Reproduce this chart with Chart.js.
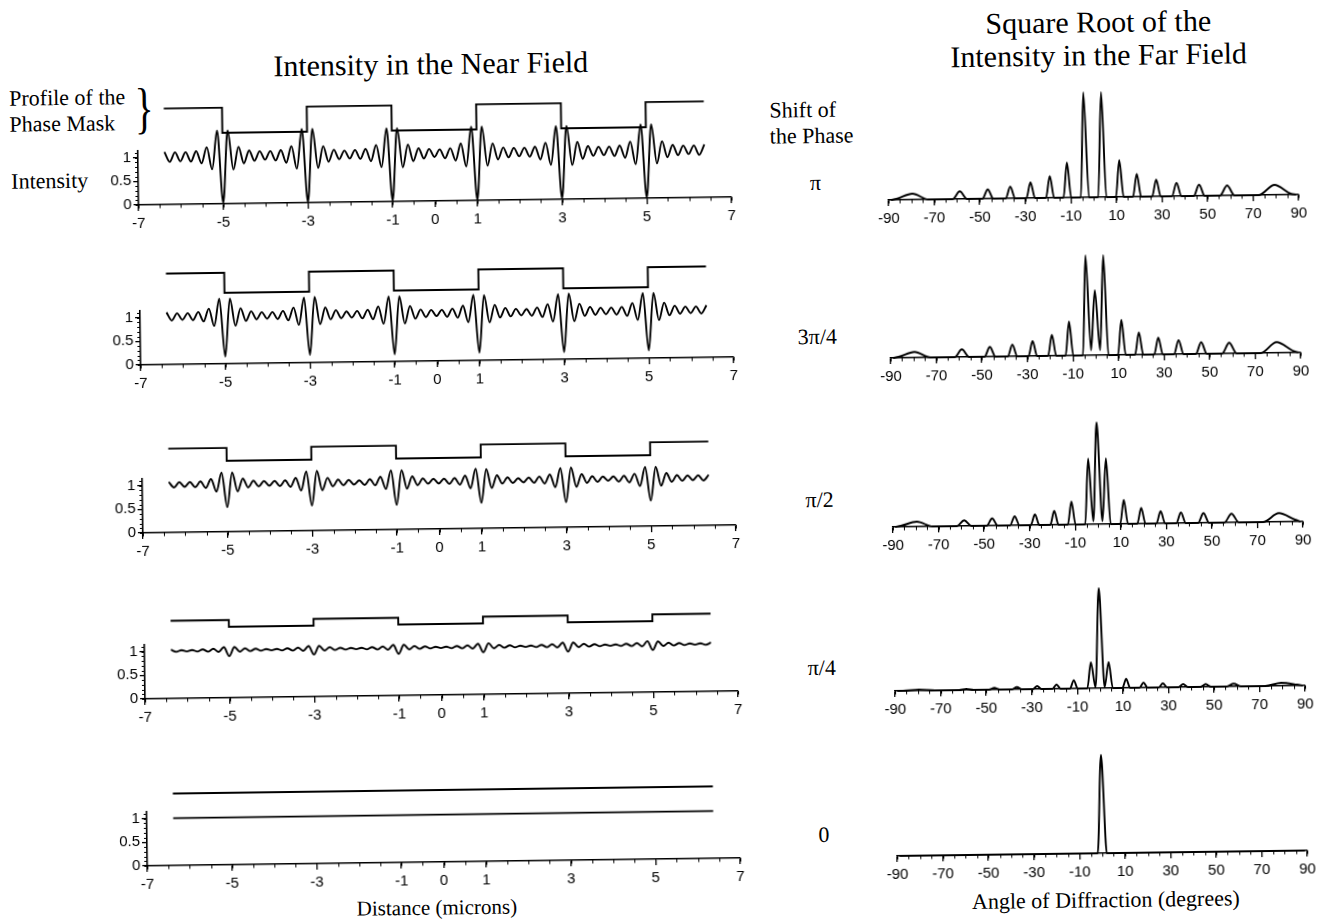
<!DOCTYPE html>
<html lang="en">
<head>
<meta charset="utf-8">
<title>Phase mask: near field and far field</title>
<script src="https://cdn.jsdelivr.net/npm/chart.js"></script>
<style>
  html, body { margin: 0; padding: 0; background: #fff; overflow: hidden; }
  #fig {
    position: relative; width: 1329px; height: 919px;
    transform: rotate(-0.76deg); transform-origin: 664px 460px;
    font-family: 'Liberation Serif', 'Times New Roman', serif; color: #000;
  }
  #fig canvas { position: absolute; }
  .t { position: absolute; white-space: nowrap; line-height: 1; }
  .c { transform: translate(-50%, -50%); }
  .l { transform: translateY(-50%); }
</style>
</head>
<body>
<div id="fig">
  <div class="t c" style="left:436px; top:61px; font-size:30px">Intensity in the Near Field</div>
  <div class="t c" style="left:1104px; top:28px; font-size:30px">Square Root of the</div>
  <div class="t c" style="left:1104px; top:61px; font-size:30px">Intensity in the Far Field</div>

  <div class="t l" style="left:14px; top:90px; font-size:22px">Profile of the</div>
  <div class="t l" style="left:14px; top:116px; font-size:22px">Phase Mask</div>
  <div class="t" style="left:149px; top:101px; font-size:56px; transform:translate(-50%,-50%) scaleX(0.7)">}</div>
  <div class="t l" style="left:15px; top:173px; font-size:22px">Intensity</div>

  <div class="t l" style="left:774px; top:112px; font-size:22px">Shift of</div>
  <div class="t l" style="left:774px; top:138px; font-size:22px">the Phase</div>
  <div class="t c" style="left:819px; top:185px; font-size:22px">π</div>
  <div class="t c" style="left:819px; top:339px; font-size:22px">3π/4</div>
  <div class="t c" style="left:819px; top:502px; font-size:22px">π/2</div>
  <div class="t c" style="left:819px; top:670px; font-size:22px">π/4</div>
  <div class="t c" style="left:819px; top:837px; font-size:22px">0</div>

  <div class="t c" style="left:431px; top:905px; font-size:21px">Distance (microns)</div>
  <div class="t c" style="left:1100px; top:906px; font-size:22px">Angle of Diffraction (degrees)</div>
</div>

<script>
// tick labels
const nearTicks = [-7, -5, -3, -1, 0, 1, 3, 5, 7];
const intensityTicks = [0, 0.5, 1];
const farTicks = [-90, -70, -50, -30, -10, 10, 30, 50, 70, 90];

// near field: distance (microns)
const nearX = [
  -6.375, -6.25, -6.125, -6, -5.875, -5.75, -5.625, -5.5, -5.375, -5.25, -5.125, -5,
  -4.875, -4.75, -4.625, -4.5, -4.375, -4.25, -4.125, -4, -3.875, -3.75, -3.625, -3.5, -3.375, -3.25, -3.125, -3,
  -2.875, -2.75, -2.625, -2.5, -2.375, -2.25, -2.125, -2, -1.875, -1.75, -1.625, -1.5, -1.375, -1.25, -1.125, -1,
  -0.875, -0.75, -0.625, -0.5, -0.375, -0.25, -0.125, 0, 0.125, 0.25, 0.375, 0.5, 0.625, 0.75, 0.875, 1,
  1.125, 1.25, 1.375, 1.5, 1.625, 1.75, 1.875, 2, 2.125, 2.25, 2.375, 2.5, 2.625, 2.75, 2.875, 3,
  3.125, 3.25, 3.375, 3.5, 3.625, 3.75, 3.875, 4, 4.125, 4.25, 4.375, 4.5, 4.625, 4.75, 4.875, 5,
  5.125, 5.25, 5.375, 5.5, 5.625, 5.75, 5.875, 6, 6.125, 6.25, 6.375
];

// intensity in the near field, shift pi
const nearPi = [
  1.11, 0.90, 1.10, 0.91, 1.10, 0.90, 1.12, 0.86, 1.20, 0.73, 1.55, 0.02,
  1.55, 0.72, 1.20, 0.85, 1.12, 0.90, 1.10, 0.92, 1.10, 0.90, 1.12, 0.85, 1.20, 0.72, 1.56, 0.01,
  1.56, 0.73, 1.19, 0.86, 1.11, 0.91, 1.09, 0.92, 1.10, 0.91, 1.12, 0.86, 1.20, 0.73, 1.55, 0.02,
  1.55, 0.72, 1.20, 0.85, 1.12, 0.90, 1.10, 0.93, 1.09, 0.90, 1.11, 0.85, 1.21, 0.72, 1.56, 0.01,
  1.56, 0.73, 1.20, 0.86, 1.11, 0.90, 1.10, 0.92, 1.10, 0.91, 1.12, 0.85, 1.20, 0.73, 1.55, 0.02,
  1.55, 0.72, 1.21, 0.85, 1.12, 0.91, 1.10, 0.92, 1.10, 0.90, 1.12, 0.86, 1.20, 0.72, 1.56, 0.01,
  1.56, 0.73, 1.20, 0.86, 1.12, 0.90, 1.10, 0.92, 1.10, 0.90, 1.12
];
// shift 3pi/4
const near3Pi4 = [
  1.10, 0.93, 1.08, 0.94, 1.08, 0.93, 1.10, 0.90, 1.17, 0.80, 1.38, 0.15,
  1.38, 0.80, 1.17, 0.90, 1.10, 0.93, 1.08, 0.94, 1.08, 0.93, 1.10, 0.90, 1.17, 0.80, 1.38, 0.16,
  1.39, 0.81, 1.16, 0.91, 1.10, 0.93, 1.07, 0.94, 1.08, 0.92, 1.10, 0.90, 1.17, 0.80, 1.38, 0.15,
  1.38, 0.80, 1.17, 0.90, 1.09, 0.93, 1.08, 0.95, 1.08, 0.93, 1.10, 0.91, 1.16, 0.81, 1.39, 0.16,
  1.38, 0.80, 1.17, 0.90, 1.10, 0.92, 1.08, 0.94, 1.07, 0.93, 1.10, 0.90, 1.17, 0.80, 1.38, 0.15,
  1.39, 0.80, 1.17, 0.91, 1.10, 0.93, 1.08, 0.94, 1.08, 0.93, 1.09, 0.90, 1.17, 0.81, 1.38, 0.16,
  1.38, 0.80, 1.17, 0.90, 1.10, 0.93, 1.08, 0.94, 1.08, 0.93, 1.10
];
// shift pi/2
const nearPi2 = [
  1.07, 0.95, 1.06, 0.96, 1.06, 0.95, 1.07, 0.93, 1.12, 0.85, 1.25, 0.52,
  1.25, 0.85, 1.12, 0.93, 1.07, 0.95, 1.06, 0.96, 1.06, 0.95, 1.07, 0.93, 1.12, 0.85, 1.25, 0.53,
  1.26, 0.85, 1.11, 0.93, 1.07, 0.95, 1.06, 0.96, 1.05, 0.95, 1.07, 0.94, 1.12, 0.86, 1.25, 0.52,
  1.25, 0.86, 1.12, 0.93, 1.07, 0.96, 1.06, 0.96, 1.06, 0.95, 1.07, 0.93, 1.12, 0.85, 1.26, 0.54,
  1.25, 0.85, 1.12, 0.94, 1.07, 0.95, 1.05, 0.96, 1.06, 0.95, 1.08, 0.93, 1.12, 0.85, 1.25, 0.53,
  1.26, 0.85, 1.12, 0.93, 1.07, 0.95, 1.06, 0.97, 1.06, 0.95, 1.07, 0.93, 1.11, 0.85, 1.25, 0.54,
  1.25, 0.85, 1.12, 0.93, 1.07, 0.95, 1.06, 0.96, 1.06, 0.95, 1.07
];
// shift pi/4
const nearPi4 = [
  1.03, 0.985, 1.02, 0.99, 1.02, 0.985, 1.03, 0.98, 1.04, 0.97, 1.07, 0.88,
  1.07, 0.97, 1.04, 0.98, 1.03, 0.985, 1.02, 0.99, 1.02, 0.985, 1.03, 0.98, 1.04, 0.97, 1.07, 0.89,
  1.07, 0.97, 1.04, 0.98, 1.025, 0.985, 1.02, 0.99, 1.02, 0.985, 1.03, 0.98, 1.04, 0.97, 1.07, 0.88,
  1.07, 0.97, 1.04, 0.98, 1.03, 0.985, 1.02, 0.99, 1.02, 0.985, 1.03, 0.98, 1.04, 0.97, 1.07, 0.89,
  1.08, 0.97, 1.04, 0.98, 1.03, 0.985, 1.02, 0.99, 1.02, 0.985, 1.03, 0.98, 1.04, 0.97, 1.07, 0.88,
  1.07, 0.97, 1.04, 0.98, 1.03, 0.985, 1.02, 0.99, 1.02, 0.985, 1.03, 0.98, 1.04, 0.97, 1.08, 0.89,
  1.07, 0.97, 1.04, 0.98, 1.03, 0.985, 1.02, 0.99, 1.02, 0.985, 1.03
];
// shift 0: flat
const nearZeroX = [-6.375, 6.375];
const nearZero = [1.0, 1.0];

// phase mask profile (drawn above the intensity curve)
const maskX = [-6.375, -5, -3, -1, 1, 3, 5, 6.375];
const maskPi = [2.03, 1.5, 2.03, 1.5, 2.03, 1.5, 2.03, 2.03];
const mask3Pi4 = [1.92, 1.5, 1.92, 1.5, 1.92, 1.5, 1.92, 1.92];
const maskPi2 = [1.77, 1.5, 1.77, 1.5, 1.77, 1.5, 1.77, 1.77];
const maskPi4 = [1.64, 1.5, 1.64, 1.5, 1.64, 1.5, 1.64, 1.64];
const maskZeroX = [-6.375, 6.375];
const maskZero = [1.52, 1.52];

// far field: angle of diffraction (degrees)
const farAngle = [
  -89, -86.5, -79.5, -72.5, -61.9, -58.7, -55.5, -48.8, -46.4, -44, -38.6, -36.5, -34.4,
  -29.5, -27.6, -25.7, -20.9, -19.1, -17.3, -13.2, -11.5, -9.8, -5.6, -3.9, -2, 0,
  2, 3.9, 5.6, 9.8, 11.5, 13.2, 17.3, 19.1, 20.9, 25.7, 27.6, 29.5, 34.4, 36.5, 38.6,
  44, 46.4, 48.8, 55.5, 58.7, 61.9, 72.5, 79.5, 86.5, 89
];
// square root of the far-field intensity
const farPi = [
  0, 0.01, 0.06, 0, 0, 0.077, 0, 0, 0.093, 0, 0, 0.117, 0,
  0, 0.157, 0, 0, 0.217, 0, 0, 0.35, 0, 0, 1.05, 0, 0,
  0, 1.05, 0, 0, 0.367, 0, 0, 0.227, 0, 0, 0.167, 0, 0, 0.133, 0,
  0, 0.113, 0, 0, 0.1, 0, 0, 0.1, 0.01, 0
];
const far3Pi4 = [
  0, 0.01, 0.057, 0, 0, 0.077, 0, 0, 0.097, 0, 0, 0.117, 0,
  0, 0.15, 0, 0, 0.21, 0, 0, 0.34, 0, 0, 1.0, 0.05, 0.65,
  0.05, 1.0, 0, 0, 0.35, 0, 0, 0.223, 0, 0, 0.167, 0, 0, 0.14, 0,
  0, 0.117, 0, 0, 0.107, 0, 0, 0.107, 0.02, 0
];
const farPi2 = [
  0, 0.01, 0.05, 0, 0, 0.057, 0, 0, 0.073, 0, 0, 0.09, 0,
  0, 0.107, 0, 0, 0.14, 0, 0, 0.23, 0, 0, 0.657, 0.03, 1.017,
  0.03, 0.657, 0, 0, 0.24, 0, 0, 0.157, 0, 0, 0.123, 0, 0, 0.107, 0,
  0, 0.097, 0, 0, 0.087, 0, 0, 0.087, 0.02, 0
];
const farPi4 = [
  0, 0, 0.01, 0, 0, 0.01, 0, 0, 0.017, 0, 0, 0.023, 0,
  0, 0.03, 0, 0, 0.043, 0, 0, 0.083, 0, 0, 0.26, 0.01, 1.0,
  0.01, 0.26, 0, 0, 0.09, 0, 0, 0.05, 0, 0, 0.04, 0, 0, 0.03, 0,
  0, 0.027, 0, 0, 0.027, 0, 0, 0.03, 0.01, 0
];
const farZero = [
  0, 0, 0, 0, 0, 0, 0, 0, 0, 0, 0, 0, 0,
  0, 0, 0, 0, 0, 0, 0, 0, 0, 0, 0, 0, 0.983,
  0, 0, 0, 0, 0, 0, 0, 0, 0, 0, 0, 0, 0, 0, 0,
  0, 0, 0, 0, 0, 0, 0, 0, 0, 0
];

const ink = '#000';
const fig = document.getElementById('fig');
const tickFont = { family: "'Liberation Sans', Arial, sans-serif", size: 15 };
Chart.defaults.color = ink;

const pts = (xs, ys) => xs.map((x, i) => ({ x, y: ys[i] }));

function addCanvas(left, top, w, h) {
  const c = document.createElement('canvas');
  c.width = w; c.height = h;
  c.style.left = left + 'px';
  c.style.top = top + 'px';
  fig.appendChild(c);
  return c;
}

// small unlabeled ticks on the axes
const minorTicks = {
  id: 'minorTicks',
  afterDraw(chart, args, o) {
    const { ctx, scales: { x, y } } = chart;
    const y0 = y.getPixelForValue(0);
    ctx.save();
    ctx.strokeStyle = ink;
    ctx.lineWidth = 1;
    ctx.beginPath();
    for (let v = o.xFrom; v <= o.xTo + 1e-6; v += o.xStep) {
      const px = Math.round(x.getPixelForValue(v)) + 0.5;
      ctx.moveTo(px, y0);
      ctx.lineTo(px, y0 + 3.5);
    }
    if (o.yStep) {
      const x0 = x.getPixelForValue(x.min);
      for (let v = 0; v <= o.yTo + 1e-6; v += o.yStep) {
        const py = Math.round(y.getPixelForValue(v)) + 0.5;
        ctx.moveTo(x0, py);
        ctx.lineTo(x0 - 3, py);
      }
    }
    ctx.stroke();
    ctx.restore();
  }
};

function axisX(min, max, ticks) {
  return {
    type: 'linear', min, max,
    afterBuildTicks: s => { s.ticks = ticks.map(v => ({ value: v })); },
    afterFit: s => { s.height = 30; },
    grid: { drawOnChartArea: false, drawTicks: true, tickLength: 6, color: ink, lineWidth: 1.3 },
    border: { display: true, color: ink, width: 1.6 },
    ticks: { font: tickFont, color: ink, padding: 4, maxRotation: 0, autoSkip: false, callback: v => String(v) }
  };
}

const baseOptions = {
  responsive: false,
  animation: false,
  events: [],
  elements: { point: { radius: 0 }, line: { capBezierPoints: false, fill: false } },
};

function nearChart(base, mX, mY, cX, cY) {
  const cv = addCanvas(106, base - 104, 639, 134);
  return new Chart(cv, {
    type: 'line',
    data: {
      datasets: [
        { data: pts(mX, mY), stepped: true, borderColor: ink, borderWidth: 1.9, clip: false },
        { data: pts(cX, cY), cubicInterpolationMode: 'monotone', borderColor: ink, borderWidth: 1.9, clip: false }
      ]
    },
    options: {
      ...baseOptions,
      layout: { padding: { top: 50, right: 10, left: 0, bottom: 0 } },
      plugins: {
        legend: { display: false }, tooltip: { enabled: false },
        minorTicks: { xFrom: -7, xTo: 7, xStep: 0.5, yTo: 1.1, yStep: 0.1 }
      },
      scales: {
        x: axisX(-7, 7, nearTicks),
        y: {
          min: 0, max: 1.14,
          afterBuildTicks: s => { s.ticks = intensityTicks.map(v => ({ value: v })); },
          afterFit: s => { s.width = 36; },
          grid: { drawOnChartArea: false, drawTicks: true, tickLength: 5, color: ink, lineWidth: 1.3 },
          border: { display: true, color: ink, width: 1.6 },
          ticks: { font: tickFont, color: ink, padding: 2, callback: v => String(v) }
        }
      }
    },
    plugins: [minorTicks]
  });
}

function farChart(base, vals) {
  const cv = addCanvas(876, base - 112, 440, 142);
  return new Chart(cv, {
    type: 'line',
    data: {
      datasets: [
        { data: pts(farAngle, vals), cubicInterpolationMode: 'monotone', borderColor: ink, borderWidth: 1.9, clip: false }
      ]
    },
    options: {
      ...baseOptions,
      layout: { padding: { top: 4, right: 14, left: 16, bottom: 0 } },
      plugins: {
        legend: { display: false }, tooltip: { enabled: false },
        minorTicks: { xFrom: -90, xTo: 90, xStep: 5 }
      },
      scales: {
        x: axisX(-90, 90, farTicks),
        y: { display: false, min: 0, max: 1.08 }
      }
    },
    plugins: [minorTicks]
  });
}

nearChart(198, maskX, maskPi, nearX, nearPi);
nearChart(358, maskX, mask3Pi4, nearX, near3Pi4);
nearChart(526, maskX, maskPi2, nearX, nearPi2);
nearChart(692, maskX, maskPi4, nearX, nearPi4);
nearChart(859, maskZeroX, maskZero, nearZeroX, nearZero);

farChart(203, farPi);
farChart(361, far3Pi4);
farChart(530, farPi2);
farChart(694, farPi4);
farChart(859, farZero);
</script>
</body>
</html>
